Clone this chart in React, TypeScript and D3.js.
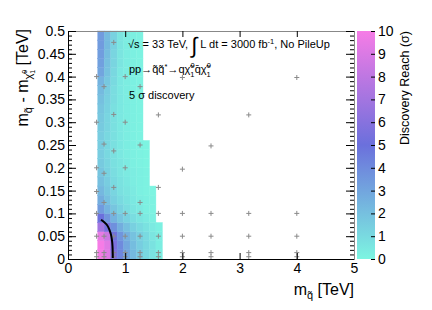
import * as d3 from 'd3';
import React, { useEffect, useRef } from 'react';

// histogram bins (TeV)
const xEdges = [0.52, 0.633, 0.746, 0.859, 0.972, 1.085, 1.198, 1.311, 1.424, 1.537, 1.65];
const yEdges = [0, 0.02, 0.04, 0.06, 0.08, 0.1, 0.12, 0.14, 0.16, 0.18, 0.2, 0.22, 0.24, 0.26,
  0.28, 0.3, 0.32, 0.34, 0.36, 0.38, 0.4, 0.42, 0.44, 0.46, 0.48, 0.5];

// discovery reach (sigma), one row per y bin, bottom row first
const reach = [
  [10, 9.2, 5.8, 4.2, 3.0, 2.2, 1.6, 1.1, 0.7, 0.3],
  [10, 9.2, 5.6, 4.0, 2.9, 2.1, 1.5, 1.1, 0.7, 0.3],
  [9.5, 8.5, 5.2, 3.6, 2.6, 1.9, 1.4, 1.0, 0.6, 0.3],
  [7.0, 5.5, 3.8, 2.7, 2.0, 1.4, 1.0, 0.7, 0.4, 0.2],
  [5.0, 3.6, 2.5, 1.8, 1.3, 0.9, 0.6, 0.4, 0.2],
  [3.4, 2.5, 1.8, 1.3, 0.9, 0.6, 0.4, 0.2, 0.1],
  [2.7, 2.0, 1.4, 1.0, 0.7, 0.5, 0.3, 0.2, 0.1],
  [2.3, 1.7, 1.2, 0.8, 0.6, 0.4, 0.2, 0.1, 0.05],
  [2.0, 1.5, 1.0, 0.7, 0.5, 0.3, 0.2, 0.1],
  [1.8, 1.3, 0.9, 0.6, 0.4, 0.3, 0.2, 0.1],
  [1.6, 1.2, 0.8, 0.6, 0.4, 0.2, 0.1, 0.05],
  [1.5, 1.1, 0.8, 0.5, 0.3, 0.2, 0.1, 0.05],
  [1.5, 1.1, 0.8, 0.5, 0.3, 0.2, 0.1, 0.05],
  [1.5, 1.1, 0.8, 0.5, 0.3, 0.2, 0.1],
  [1.6, 1.2, 0.8, 0.5, 0.3, 0.2, 0.1],
  [1.7, 1.2, 0.8, 0.5, 0.3, 0.2, 0.1],
  [1.8, 1.3, 0.8, 0.5, 0.3, 0.2, 0.1],
  [2.0, 1.4, 0.9, 0.5, 0.3, 0.2, 0.1],
  [2.2, 1.5, 0.9, 0.5, 0.3, 0.2, 0.1],
  [2.5, 1.7, 1.0, 0.5, 0.3, 0.2, 0.1],
  [3.0, 1.9, 1.1, 0.5, 0.3, 0.2, 0.1],
  [3.2, 2.0, 1.2, 0.6, 0.3, 0.2, 0.1],
  [3.3, 2.1, 1.2, 0.6, 0.3, 0.2, 0.1],
  [3.4, 2.2, 1.3, 0.6, 0.3, 0.2, 0.1],
  [3.4, 2.2, 1.3, 0.6, 0.3, 0.2, 0.1],
];

// simulated signal points [m_squark, m_squark - m_chi]
const scanPoints = [
  [0.5, 0.4], [0.5, 0.3], [0.5, 0.2], [0.5, 0.148], [0.5, 0.1], [0.5, 0.05], [0.5, 0.014], [0.5, 0.005],
  [0.63, 0.378], [0.63, 0.252], [0.63, 0.188], [0.63, 0.124], [0.63, 0.05], [0.63, 0.014], [0.63, 0.005],
  [0.8, 0.475], [0.8, 0.317], [0.8, 0.237], [0.8, 0.157], [0.8, 0.1], [0.8, 0.05], [0.8, 0.014], [0.8, 0.005],
  [1.0, 0.4], [1.0, 0.3], [1.0, 0.2], [1.0, 0.1], [1.0, 0.05], [1.0, 0.014], [1.0, 0.005],
  [1.26, 0.378], [1.26, 0.25], [1.26, 0.124], [1.26, 0.1], [1.26, 0.05], [1.26, 0.014], [1.26, 0.005],
  [1.58, 0.316], [1.58, 0.157], [1.58, 0.1], [1.58, 0.05], [1.58, 0.014], [1.58, 0.005],
  [2.0, 0.398], [2.0, 0.197], [2.0, 0.1], [2.0, 0.05], [2.0, 0.014], [2.0, 0.005],
  [2.5, 0.248], [2.5, 0.1], [2.5, 0.05], [2.5, 0.014], [2.5, 0.005],
  [3.16, 0.316], [3.16, 0.1], [3.16, 0.05], [3.16, 0.014], [3.16, 0.005],
  [4.0, 0.398], [4.0, 0.1], [4.0, 0.05], [4.0, 0.014], [4.0, 0.005],
];

// 5 sigma contour
const contour5 = [
  [0.578, 0.086], [0.63, 0.081], [0.685, 0.074], [0.725, 0.064], [0.75, 0.054],
  [0.768, 0.042], [0.778, 0.028], [0.782, 0.012], [0.783, 0.002],
];

const xTicks = [0, 1, 2, 3, 4, 5];
const yTicks = [0, 0.05, 0.1, 0.15, 0.2, 0.25, 0.3, 0.35, 0.4, 0.45, 0.5];
const yTickLabels = ['0', '0.05', '0.1', '0.15', '0.2', '0.25', '0.3', '0.35', '0.4', '0.45', '0.5'];
const yMinor = d3.range(0, 51).map(i => i / 100);
const zTicks = [0, 1, 2, 3, 4, 5, 6, 7, 8, 9, 10];

const FONT = '"Liberation Sans", Arial, Helvetica, sans-serif';
const L = 68, R = 354, T = 31, B = 259;

const App = () => {
  const ref = useRef<SVGGElement>(null);

  useEffect(() => {
    const g = d3.select(ref.current);
    g.selectAll('*').remove();

    const x = d3.scaleLinear().domain([0, 5]).range([L, R]);
    const y = d3.scaleLinear().domain([0, 0.5]).range([B, T]);
    const z = d3.scaleLinear<string>().domain([0, 5, 10])
      .range(['#7df5e1', '#6b70dc', '#f67ce6']).clamp(true);

    const cells: { i: number; j: number; v: number }[] = [];
    reach.forEach((row, j) => row.forEach((v, i) => cells.push({ i, j, v })));

    g.append('g').selectAll('rect')
      .data(cells)
      .enter()
      .append('rect')
      .attr('x', d => x(xEdges[d.i]))
      .attr('y', d => y(yEdges[d.j + 1]))
      .attr('width', d => x(xEdges[d.i + 1]) - x(xEdges[d.i]))
      .attr('height', d => y(yEdges[d.j]) - y(yEdges[d.j + 1]))
      .attr('fill', d => z(d.v))
      .attr('stroke', d => z(d.v))
      .attr('stroke-width', 0.4);

    g.append('g').selectAll('path')
      .data(scanPoints)
      .enter()
      .append('path')
      .attr('d', d => `M${x(d[0]) - 2.5},${y(d[1])}h5M${x(d[0])},${y(d[1]) - 2.5}v5`)
      .attr('stroke', '#8a8a8a')
      .attr('stroke-width', 1)
      .attr('fill', 'none');

    const line = d3.line<number[]>()
      .x(d => x(d[0]))
      .y(d => y(d[1]))
      .curve(d3.curveCatmullRom);
    g.append('path')
      .datum(contour5)
      .attr('d', line)
      .attr('fill', 'none')
      .attr('stroke', '#000')
      .attr('stroke-width', 2);

    const styleAxis = (sel: any, domainColor: string) => {
      sel.attr('font-family', FONT).attr('font-size', 14);
      sel.select('.domain').attr('stroke', domainColor);
      sel.selectAll('.tick line').attr('stroke', '#000');
      sel.selectAll('text').attr('fill', '#000');
    };

    // x axes
    g.append('g')
      .attr('transform', `translate(0,${B})`)
      .call(d3.axisBottom(x).tickValues(xTicks).tickSize(-6).tickSizeOuter(0).tickPadding(4).tickFormat(d3.format('d')))
      .call(s => styleAxis(s, '#000'));
    g.append('g')
      .attr('transform', `translate(0,${T})`)
      .call(d3.axisTop(x).tickValues(xTicks).tickSize(-6).tickSizeOuter(0).tickFormat(() => ''))
      .call(s => styleAxis(s, '#888'));

    // y axes
    g.append('g')
      .attr('transform', `translate(${L},0)`)
      .call(d3.axisLeft(y).tickValues(yMinor).tickSize(-4).tickSizeOuter(0).tickFormat(() => ''))
      .call(s => styleAxis(s, '#000'));
    g.append('g')
      .attr('transform', `translate(${L},0)`)
      .call(d3.axisLeft(y).tickValues(yTicks).tickSize(-8).tickSizeOuter(0).tickPadding(3)
        .tickFormat((d, i) => yTickLabels[i]))
      .call(s => styleAxis(s, '#000'));
    g.append('g')
      .attr('transform', `translate(${R},0)`)
      .call(d3.axisRight(y).tickValues(yMinor).tickSize(-4).tickSizeOuter(0).tickFormat(() => ''))
      .call(s => styleAxis(s, '#888'));
    g.append('g')
      .attr('transform', `translate(${R},0)`)
      .call(d3.axisRight(y).tickValues(yTicks).tickSize(-8).tickSizeOuter(0).tickFormat(() => ''))
      .call(s => styleAxis(s, '#888'));

    // colour bar
    const zy = d3.scaleLinear().domain([0, 10]).range([B, T]);
    const grad = g.append('defs').append('linearGradient')
      .attr('id', 'pal').attr('x1', 0).attr('y1', 1).attr('x2', 0).attr('y2', 0);
    zTicks.forEach(t => grad.append('stop').attr('offset', t / 10).attr('stop-color', z(t)));
    g.append('rect')
      .attr('x', 357).attr('y', T).attr('width', 18).attr('height', B - T)
      .attr('fill', 'url(#pal)');
    g.append('g')
      .attr('transform', 'translate(375,0)')
      .call(d3.axisRight(zy).tickValues(zTicks).tickSize(-4).tickSizeOuter(0).tickPadding(3).tickFormat(d3.format('d')))
      .call(s => styleAxis(s, 'none'));
  }, []);

  return (
    <svg width={432} height={310} style={{ position: 'absolute', left: 0, top: 0, background: '#fff' }}
      fontFamily={FONT}>
      <rect width={432} height={310} fill="#fff" />
      <g ref={ref} />
      <text x={128} y={48} fontSize={11}>
        √s = 33 TeV, <tspan fontSize={22} dy={5}>∫</tspan>
        <tspan fontSize={11} dy={-5}> L dt = 3000 fb</tspan>
        <tspan fontSize={7.5} dy={-4}>-1</tspan>
        <tspan fontSize={11} dy={4}>, No PileUp</tspan>
      </text>
      <text x={129} y={73} fontSize={11}>
        pp→q&#x303;q&#x303;<tspan fontSize={7.5} dy={-4}>*</tspan>
        <tspan fontSize={11} dy={4}>→qχ&#x303;</tspan>
        <tspan fontSize={7.5} dy={4}>1</tspan>
        <tspan fontSize={7.5} dx={-4} dy={-9}>0</tspan>
        <tspan fontSize={11} dy={5}>q&#x304;χ&#x303;</tspan>
        <tspan fontSize={7.5} dy={4}>1</tspan>
        <tspan fontSize={7.5} dx={-4} dy={-9}>0</tspan>
      </text>
      <text x={129} y={99} fontSize={11}>5 σ discovery</text>
      <text x={354} y={295} fontSize={16} textAnchor="end">
        m<tspan fontSize={11} dy={4}>q&#x303;</tspan><tspan fontSize={16} dy={-4}> [TeV]</tspan>
      </text>
      <text transform="translate(28,29) rotate(-90)" fontSize={16} textAnchor="end">
        m<tspan fontSize={11} dy={4}>q&#x303;</tspan>
        <tspan fontSize={16} dy={-4}> - m</tspan>
        <tspan fontSize={11} dy={4}>χ&#x303;</tspan>
        <tspan fontSize={7} dy={3}>1</tspan>
        <tspan fontSize={7} dx={-4} dy={-8}>0</tspan>
        <tspan fontSize={16} dy={1}> [TeV]</tspan>
      </text>
      <text transform="translate(409,31) rotate(-90)" fontSize={12.5} textAnchor="end">
        Discovery Reach (σ)
      </text>
    </svg>
  );
};

export default App;
